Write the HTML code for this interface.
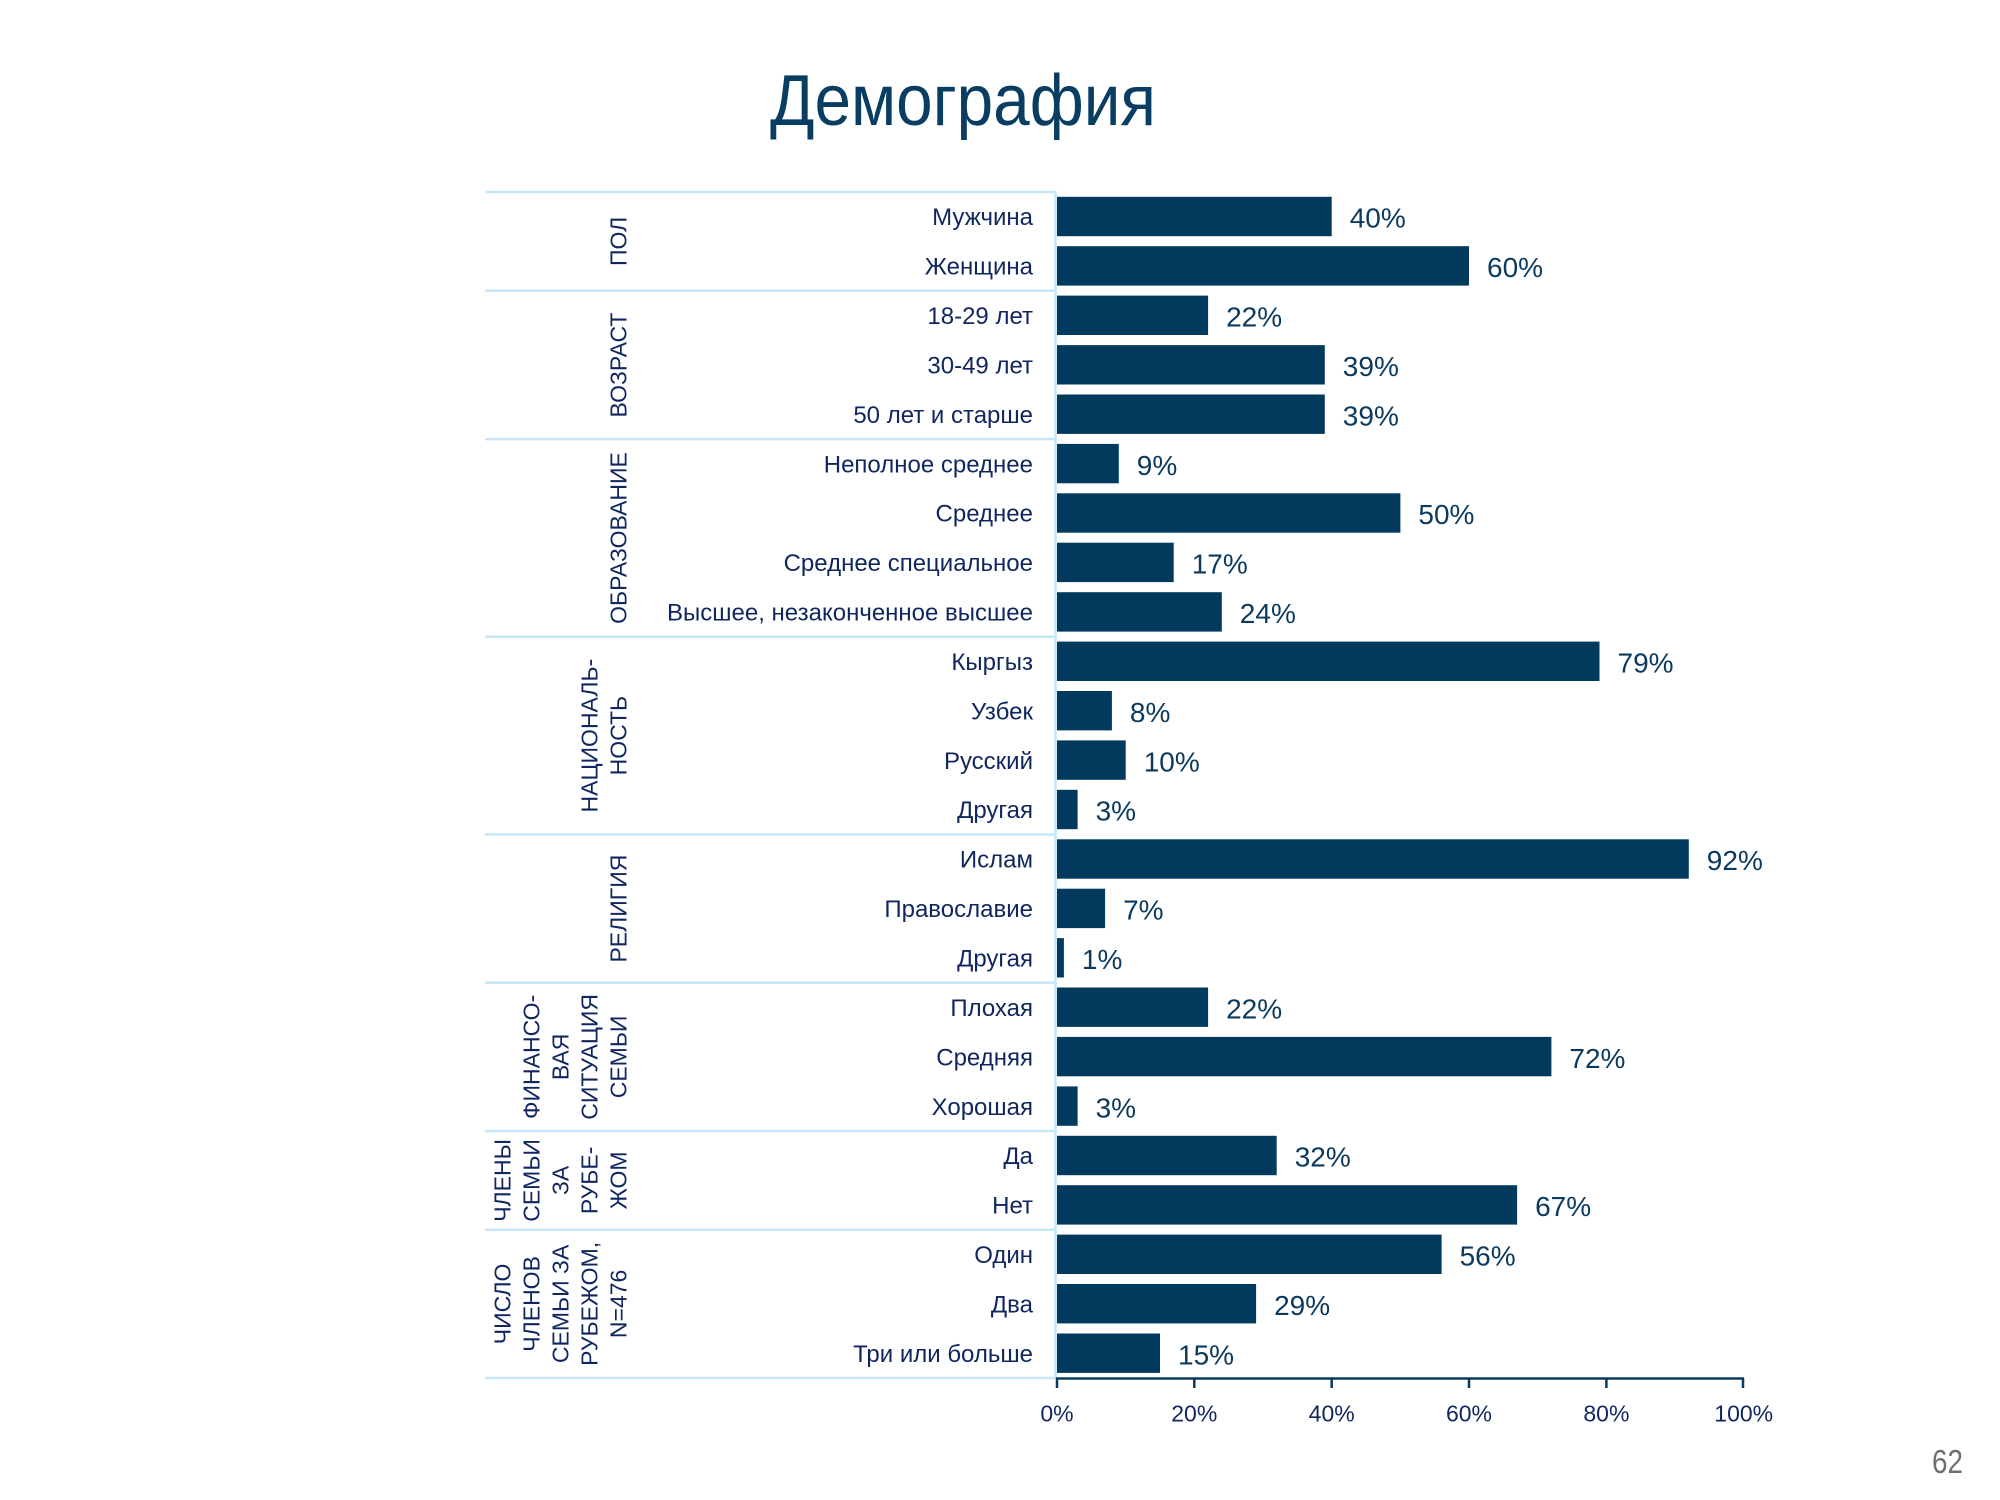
<!DOCTYPE html>
<html><head><meta charset="utf-8"><style>
html,body{margin:0;padding:0;background:#fff;}
svg{display:block;}
text{font-family:"Liberation Sans","DejaVu Sans",sans-serif;}
</style></head><body>
<svg width="2000" height="1500" viewBox="0 0 2000 1500" xmlns="http://www.w3.org/2000/svg">
<rect width="2000" height="1500" fill="#fff"/>
<text x="770" y="125" font-size="72" fill="#0a3d62" textLength="386" lengthAdjust="spacingAndGlyphs">Демография</text>

<g stroke="#c6e7f8" stroke-width="2.5">
<line x1="485" y1="192" x2="1056" y2="192"/>
<line x1="485" y1="290.8" x2="1056" y2="290.8"/>
<line x1="485" y1="439.1" x2="1056" y2="439.1"/>
<line x1="485" y1="636.8" x2="1056" y2="636.8"/>
<line x1="485" y1="834.5" x2="1056" y2="834.5"/>
<line x1="485" y1="982.7" x2="1056" y2="982.7"/>
<line x1="485" y1="1131" x2="1056" y2="1131"/>
<line x1="485" y1="1229.8" x2="1056" y2="1229.8"/>
<line x1="485" y1="1378" x2="1056" y2="1378"/>
<line x1="1055.5" y1="191" x2="1055.5" y2="1378"/>
</g>

<g fill="#023a5e">
<rect x="1057" y="196.8" width="274.7" height="39.4"/>
<rect x="1057" y="246.2" width="412.0" height="39.4"/>
<rect x="1057" y="295.6" width="151.1" height="39.4"/>
<rect x="1057" y="345.1" width="267.8" height="39.4"/>
<rect x="1057" y="394.5" width="267.8" height="39.4"/>
<rect x="1057" y="443.9" width="61.8" height="39.4"/>
<rect x="1057" y="493.3" width="343.4" height="39.4"/>
<rect x="1057" y="542.7" width="116.7" height="39.4"/>
<rect x="1057" y="592.2" width="164.8" height="39.4"/>
<rect x="1057" y="641.6" width="542.5" height="39.4"/>
<rect x="1057" y="691.0" width="54.9" height="39.4"/>
<rect x="1057" y="740.4" width="68.7" height="39.4"/>
<rect x="1057" y="789.8" width="20.6" height="39.4"/>
<rect x="1057" y="839.3" width="631.8" height="39.4"/>
<rect x="1057" y="888.7" width="48.1" height="39.4"/>
<rect x="1057" y="938.1" width="6.9" height="39.4"/>
<rect x="1057" y="987.5" width="151.1" height="39.4"/>
<rect x="1057" y="1036.9" width="494.4" height="39.4"/>
<rect x="1057" y="1086.4" width="20.6" height="39.4"/>
<rect x="1057" y="1135.8" width="219.7" height="39.4"/>
<rect x="1057" y="1185.2" width="460.1" height="39.4"/>
<rect x="1057" y="1234.6" width="384.6" height="39.4"/>
<rect x="1057" y="1284.0" width="199.1" height="39.4"/>
<rect x="1057" y="1333.5" width="103.0" height="39.4"/>
</g>

<g font-size="24" fill="#10265e" text-anchor="end">
<text x="1033" y="225.2">Мужчина</text>
<text x="1033" y="274.6">Женщина</text>
<text x="1033" y="324.0">18-29 лет</text>
<text x="1033" y="373.5">30-49 лет</text>
<text x="1033" y="422.9">50 лет и старше</text>
<text x="1033" y="472.3">Неполное среднее</text>
<text x="1033" y="521.7">Среднее</text>
<text x="1033" y="571.1">Среднее специальное</text>
<text x="1033" y="620.6">Высшее, незаконченное высшее</text>
<text x="1033" y="670.0">Кыргыз</text>
<text x="1033" y="719.4">Узбек</text>
<text x="1033" y="768.8">Русский</text>
<text x="1033" y="818.2">Другая</text>
<text x="1033" y="867.7">Ислам</text>
<text x="1033" y="917.1">Православие</text>
<text x="1033" y="966.5">Другая</text>
<text x="1033" y="1015.9">Плохая</text>
<text x="1033" y="1065.3">Средняя</text>
<text x="1033" y="1114.8">Хорошая</text>
<text x="1033" y="1164.2">Да</text>
<text x="1033" y="1213.6">Нет</text>
<text x="1033" y="1263.0">Один</text>
<text x="1033" y="1312.4">Два</text>
<text x="1033" y="1361.9">Три или больше</text>
</g>

<g font-size="28" fill="#0b3a5e">
<text x="1349.7" y="227.7">40%</text>
<text x="1487.0" y="277.1">60%</text>
<text x="1226.1" y="326.5">22%</text>
<text x="1342.8" y="376.0">39%</text>
<text x="1342.8" y="425.4">39%</text>
<text x="1136.8" y="474.8">9%</text>
<text x="1418.4" y="524.2">50%</text>
<text x="1191.7" y="573.6">17%</text>
<text x="1239.8" y="623.1">24%</text>
<text x="1617.5" y="672.5">79%</text>
<text x="1129.9" y="721.9">8%</text>
<text x="1143.7" y="771.3">10%</text>
<text x="1095.6" y="820.7">3%</text>
<text x="1706.8" y="870.2">92%</text>
<text x="1123.1" y="919.6">7%</text>
<text x="1081.9" y="969.0">1%</text>
<text x="1226.1" y="1018.4">22%</text>
<text x="1569.4" y="1067.8">72%</text>
<text x="1095.6" y="1117.3">3%</text>
<text x="1294.7" y="1166.7">32%</text>
<text x="1535.1" y="1216.1">67%</text>
<text x="1459.6" y="1265.5">56%</text>
<text x="1274.1" y="1314.9">29%</text>
<text x="1178.0" y="1364.4">15%</text>
</g>

<g font-size="23" fill="#10265e" text-anchor="middle">
<text transform="translate(626.5,241.4) rotate(-90)">ПОЛ</text>
<text transform="translate(626.5,365) rotate(-90)">ВОЗРАСТ</text>
<text transform="translate(626.5,538) rotate(-90)">ОБРАЗОВАНИЕ</text>
<text transform="translate(597.5,735.6) rotate(-90)">НАЦИОНАЛЬ-</text>
<text transform="translate(626.5,735.6) rotate(-90)">НОСТЬ</text>
<text transform="translate(626.5,908.6) rotate(-90)">РЕЛИГИЯ</text>
<text transform="translate(539.5,1056.9) rotate(-90)">ФИНАНСО-</text>
<text transform="translate(568.5,1056.9) rotate(-90)">ВАЯ</text>
<text transform="translate(597.5,1056.9) rotate(-90)">СИТУАЦИЯ</text>
<text transform="translate(626.5,1056.9) rotate(-90)">СЕМЬИ</text>
<text transform="translate(510.5,1180.4) rotate(-90)">ЧЛЕНЫ</text>
<text transform="translate(539.5,1180.4) rotate(-90)">СЕМЬИ</text>
<text transform="translate(568.5,1180.4) rotate(-90)">ЗА</text>
<text transform="translate(597.5,1180.4) rotate(-90)">РУБЕ-</text>
<text transform="translate(626.5,1180.4) rotate(-90)">ЖОМ</text>
<text transform="translate(510.5,1303.9) rotate(-90)">ЧИСЛО</text>
<text transform="translate(539.5,1303.9) rotate(-90)">ЧЛЕНОВ</text>
<text transform="translate(568.5,1303.9) rotate(-90)">СЕМЬИ ЗА</text>
<text transform="translate(597.5,1303.9) rotate(-90)">РУБЕЖОМ,</text>
<text transform="translate(626.5,1303.9) rotate(-90)">N=476</text>
</g>

<g stroke="#0b3b5c" stroke-width="2.5">
<line x1="1056" y1="1378.5" x2="1744" y2="1378.5"/>
<line x1="1057" y1="1378" x2="1057" y2="1388"/>
<line x1="1194.3" y1="1378" x2="1194.3" y2="1388"/>
<line x1="1331.7" y1="1378" x2="1331.7" y2="1388"/>
<line x1="1469" y1="1378" x2="1469" y2="1388"/>
<line x1="1606.4" y1="1378" x2="1606.4" y2="1388"/>
<line x1="1743" y1="1378" x2="1743" y2="1388"/>
</g>
<g font-size="23" fill="#10265e" text-anchor="middle">
<text x="1057" y="1421.5">0%</text>
<text x="1194.3" y="1421.5">20%</text>
<text x="1331.7" y="1421.5">40%</text>
<text x="1469" y="1421.5">60%</text>
<text x="1606.4" y="1421.5">80%</text>
<text x="1743.7" y="1421.5">100%</text>
</g>

<text x="1932" y="1473" font-size="33" fill="#6e6e6e" textLength="31" lengthAdjust="spacingAndGlyphs">62</text>
</svg>
</body></html>
